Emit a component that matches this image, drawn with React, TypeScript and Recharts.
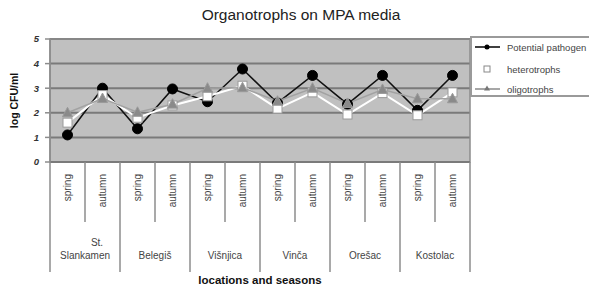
import React from 'react';
import { LineChart, Line, XAxis, YAxis, CartesianGrid, ReferenceArea } from 'recharts';

const locations = ['St.|Slankamen', 'Belegiš', 'Višnjica', 'Vinča', 'Orešac', 'Kostolac'];
const seasons = ['spring', 'autumn'];
const seriesNames = ['Potential pathogen', 'heterotrophs', 'oligotrophs'];
const pathogen = [1.1, 3.0, 1.35, 2.97, 2.45, 3.78, 2.4, 3.52, 2.35, 3.52, 2.1, 3.52];
const heterotrophs = [1.6, 2.72, 1.8, 2.3, 2.67, 3.1, 2.17, 2.83, 1.93, 2.8, 1.9, 2.83];
const oligotrophs = [2.0, 2.58, 2.02, 2.35, 3.0, 3.02, 2.47, 3.0, 2.38, 2.95, 2.57, 2.57];
const yTicks = [0, 1, 2, 3, 4, 5];

const data = pathogen.map((_, i) => ({
  key: `${i}`,
  season: seasons[i % 2],
  location: locations[Math.floor(i / 2)],
  pathogen: pathogen[i],
  heterotrophs: heterotrophs[i],
  oligotrophs: oligotrophs[i],
}));

const FONT = '"Liberation Sans", Arial, sans-serif';
const SEP = '#8c8c8c';

const SeasonTick = (props: any) => {
  const { x, y, payload } = props;
  const i = Number(payload.value);
  const half = payload.offset || 17.5;
  const d = data[i];
  const isAutumn = i % 2 === 1;
  const els: any[] = [];
  els.push(
    <line key="r" x1={x + half} x2={x + half} y1={y} y2={y + (isAutumn ? 110 : 60)} stroke={SEP} strokeWidth={1.5} />
  );
  if (i === 0) {
    els.push(<line key="l" x1={x - half} x2={x - half} y1={y} y2={y + 110} stroke={SEP} strokeWidth={1.5} />);
  }
  els.push(
    <text key="s" x={x} y={y + 12} transform={`rotate(-90 ${x} ${y + 12})`} textAnchor="end" dy="0.35em"
      fontFamily={FONT} fontSize={10} fill="#444">{d.season}</text>
  );
  if (isAutumn) {
    const parts = d.location.split('|');
    const cx = x - half;
    if (parts.length === 2) {
      els.push(<text key="a" x={cx + 12} y={y + 84} textAnchor="middle" fontFamily={FONT} fontSize={10} fill="#444">{parts[0]}</text>);
      els.push(<text key="b" x={cx} y={y + 97} textAnchor="middle" fontFamily={FONT} fontSize={10} fill="#444">{parts[1]}</text>);
    } else {
      els.push(<text key="b" x={cx} y={y + 97} textAnchor="middle" fontFamily={FONT} fontSize={10} fill="#444">{parts[0]}</text>);
    }
  }
  return <g>{els}</g>;
};

const CircleDot = (p: any) => (p.cx == null ? null : <circle cx={p.cx} cy={p.cy} r={5} fill="#000" stroke="#000" />);
const SquareDot = (p: any) => (p.cx == null ? null : <rect x={p.cx - 4.5} y={p.cy - 4.5} width={9} height={9} fill="#fff" stroke="#9a9a9a" strokeWidth={1} />);
const TriDot = (p: any) => (p.cx == null ? null : (
  <path d={`M${p.cx},${p.cy - 5.5} L${p.cx + 5},${p.cy + 4} L${p.cx - 5},${p.cy + 4} Z`} fill="#8a8a8a" stroke="#9a9a9a" strokeWidth={1} />
));

const LegendBox = () => (
  <div style={{ position: 'absolute', left: 470, top: 36, width: 140, height: 61, border: '2px solid #9a9a9a', background: '#fff', boxSizing: 'border-box', fontFamily: FONT, fontSize: 9.5, color: '#444' }}>
    <svg width={140} height={61} style={{ position: 'absolute', left: 0, top: 0 }}>
      <line x1={3} x2={28} y1={9} y2={9} stroke="#000" strokeWidth={1.5} />
      <circle cx={15} cy={9} r={2.5} fill="#000" />
      <rect x={12} y={28} width={6} height={6} fill="#fff" stroke="#888" />
      <line x1={3} x2={28} y1={51} y2={51} stroke="#8a8a8a" strokeWidth={1.5} />
      <path d="M15,47.5 L18,52.5 L12,52.5 Z" fill="#777" />
      <text x={35} y={12.5} fontSize={9.5} fill="#444" fontFamily={FONT}>{seriesNames[0]}</text>
      <text x={35} y={34.5} fontSize={9.5} fill="#444" fontFamily={FONT}>{seriesNames[1]}</text>
      <text x={35} y={54.5} fontSize={9.5} fill="#444" fontFamily={FONT}>{seriesNames[2]}</text>
    </svg>
  </div>
);

export default function App() {
  return (
    <div style={{ position: 'absolute', left: 0, top: 0, width: 589, height: 285, background: '#fff', overflow: 'hidden' }}>
      <div style={{ position: 'absolute', left: 0, top: 6, width: 602, textAlign: 'center', fontFamily: FONT, fontSize: 15.5, color: '#222', whiteSpace: 'nowrap' }}>
        Organotrophs on MPA media
      </div>
      <div style={{ position: 'absolute', left: 0, top: 0 }}>
        <LineChart width={589} height={285} data={data} margin={{ top: 39, right: 119, bottom: 0, left: 0 }}>
          <CartesianGrid vertical={false} fill="#c0c0c0" fillOpacity={1} stroke="#7a7a7a" strokeWidth={2} horizontalValues={yTicks} />
          <ReferenceArea y1={0} y2={5} fill="none" stroke="#8c8c8c" strokeWidth={1.5} ifOverflow="visible" />
          <XAxis dataKey="key" type="category" scale="band" interval={0} height={123} tickSize={0} tickMargin={0}
            axisLine={{ stroke: '#7a7a7a', strokeWidth: 2 }} tickLine={false} tick={<SeasonTick />}
            label={{ value: 'locations and seasons', position: 'insideBottom', offset: 1, style: { fontFamily: FONT, fontSize: 11.5, fontWeight: 'bold', fill: '#111' } }} />
          <YAxis type="number" domain={[0, 5]} ticks={yTicks} width={50} tickSize={5} tickMargin={6}
            axisLine={{ stroke: '#8c8c8c', strokeWidth: 1.5 }} tickLine={{ stroke: '#8c8c8c', strokeWidth: 1.5 }}
            tick={{ fontFamily: FONT, fontSize: 9.5, fontWeight: 'bold', fontStyle: 'italic', fill: '#333' }}
            label={{ value: 'log CFU/ml', angle: -90, position: 'insideLeft', offset: 14, style: { fontFamily: FONT, fontSize: 10.5, fontWeight: 'bold', fill: '#111', textAnchor: 'middle' } }} />
          <Line dataKey="pathogen" name={seriesNames[0]} stroke="#111" strokeWidth={1.5} dot={<CircleDot />} isAnimationActive={false} />
          <Line dataKey="heterotrophs" name={seriesNames[1]} stroke="#ffffff" strokeWidth={2} dot={<SquareDot />} isAnimationActive={false} />
          <Line dataKey="oligotrophs" name={seriesNames[2]} stroke="#a2a2a2" strokeWidth={1.5} dot={<TriDot />} isAnimationActive={false} />
        </LineChart>
      </div>
      <LegendBox />
    </div>
  );
}
